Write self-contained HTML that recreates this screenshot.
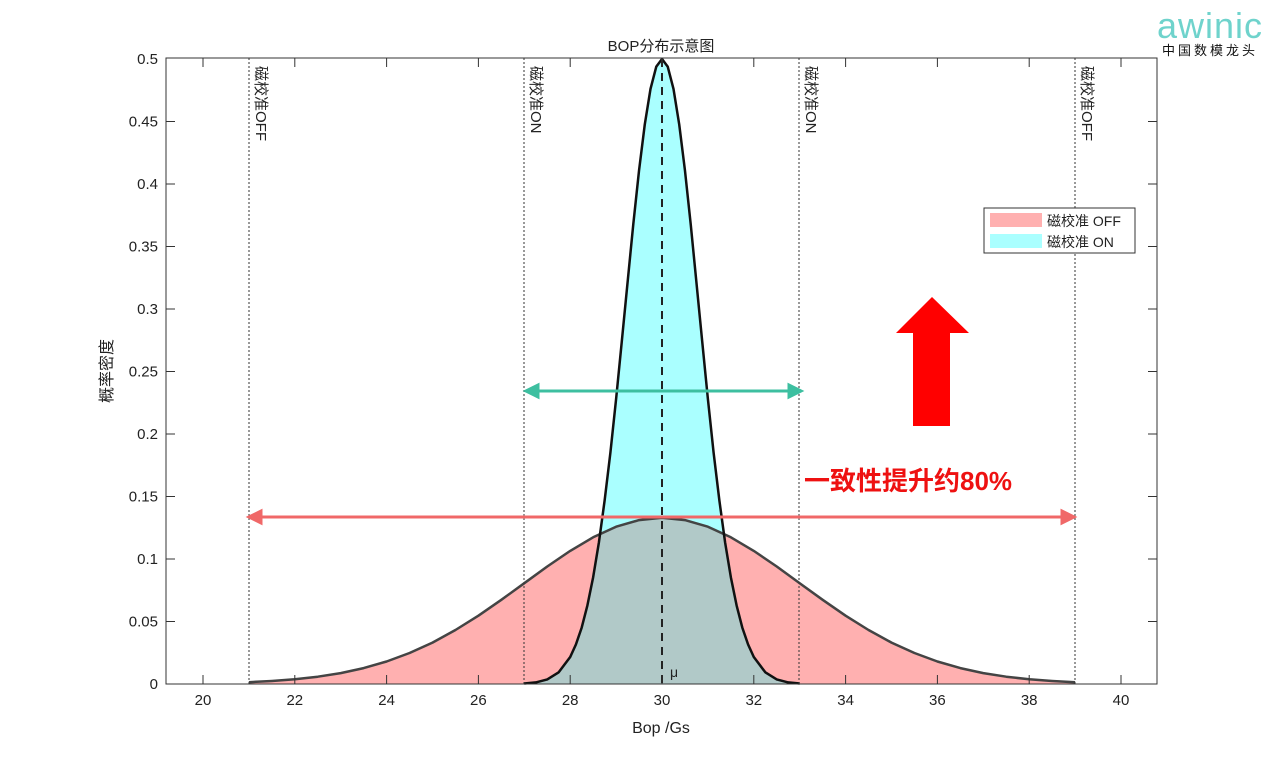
<!DOCTYPE html>
<html><head><meta charset="utf-8"><style>
body{margin:0;background:#fff;width:1280px;height:768px;overflow:hidden}
text{font-family:"Liberation Sans","Noto Sans CJK SC",sans-serif}
</style></head><body>
<svg width="1280" height="768" xmlns="http://www.w3.org/2000/svg" xmlns:xlink="http://www.w3.org/1999/xlink">
<defs>
<polygon id="offp" points="248.9,684 248.9,682.2 271.85,681.0 294.8,679.3 317.75,676.7 340.7,673.1 363.65,668.1 386.6,661.5 409.55,653.0 432.5,642.6 455.45,630.0 478.4,615.7 501.35,599.8 524.3,583.2 547.25,566.5 570.2,550.9 593.15,537.3 616.1,526.7 639.05,520.1 662,517.8 684.95,520.1 707.9,526.7 730.85,537.3 753.8,550.9 776.75,566.5 799.7,583.2 822.65,599.8 845.6,615.7 868.55,630.0 891.5,642.6 914.45,653.0 937.4,661.5 960.35,668.1 983.3,673.1 1006.25,676.7 1029.2,679.3 1052.15,681.0 1075.1,682.2 1075.1,684"/>
<polygon id="onp" points="524.3,684 524.3,683.5 535.8,682.4 547.25,679.4 558.7,672.3 570.2,657.0 575.9,644.5 581.7,627.6 587.4,605.4 593.15,577.2 598.9,542.4 604.6,500.7 610.4,452.6 616.1,399.0 621.8,341.4 627.6,282.1 633.3,224.1 639.05,170.4 644.8,124.3 650.5,88.9 656.3,66.6 662,59 667.7,66.6 673.5,88.9 679.2,124.3 684.95,170.4 690.7,224.1 696.4,282.1 702.2,341.4 707.9,399.0 713.6,452.6 719.4,500.7 725.1,542.4 730.85,577.2 736.6,605.4 742.3,627.6 748.1,644.5 753.8,657.0 765.3,672.3 776.75,679.4 788.2,682.4 799.7,683.5 799.7,684"/>
<clipPath id="offclip"><use xlink:href="#offp" href="#offp"/></clipPath>
</defs>
<rect x="166" y="58" width="991" height="626" fill="#fff"/>
<use href="#offp" xlink:href="#offp" fill="#ffb0b0"/>
<use href="#onp" xlink:href="#onp" fill="#aaffff"/>
<use href="#onp" xlink:href="#onp" fill="#b1c9c8" clip-path="url(#offclip)"/>
<polyline fill="none" stroke="#444" stroke-width="2.5" stroke-linejoin="round" points="248.9,682.2 271.85,681.0 294.8,679.3 317.75,676.7 340.7,673.1 363.65,668.1 386.6,661.5 409.55,653.0 432.5,642.6 455.45,630.0 478.4,615.7 501.35,599.8 524.3,583.2 547.25,566.5 570.2,550.9 593.15,537.3 616.1,526.7 639.05,520.1 662,517.8 684.95,520.1 707.9,526.7 730.85,537.3 753.8,550.9 776.75,566.5 799.7,583.2 822.65,599.8 845.6,615.7 868.55,630.0 891.5,642.6 914.45,653.0 937.4,661.5 960.35,668.1 983.3,673.1 1006.25,676.7 1029.2,679.3 1052.15,681.0 1075.1,682.2"/>
<polyline fill="none" stroke="#111" stroke-width="2.5" stroke-linejoin="round" points="524.3,683.5 535.8,682.4 547.25,679.4 558.7,672.3 570.2,657.0 575.9,644.5 581.7,627.6 587.4,605.4 593.15,577.2 598.9,542.4 604.6,500.7 610.4,452.6 616.1,399.0 621.8,341.4 627.6,282.1 633.3,224.1 639.05,170.4 644.8,124.3 650.5,88.9 656.3,66.6 662,59 667.7,66.6 673.5,88.9 679.2,124.3 684.95,170.4 690.7,224.1 696.4,282.1 702.2,341.4 707.9,399.0 713.6,452.6 719.4,500.7 725.1,542.4 730.85,577.2 736.6,605.4 742.3,627.6 748.1,644.5 753.8,657.0 765.3,672.3 776.75,679.4 788.2,682.4 799.7,683.5"/>
<line x1="662" y1="59" x2="662" y2="684" stroke="#222" stroke-width="2" stroke-dasharray="8,6"/>
<g stroke="#333" stroke-width="1" stroke-dasharray="2,2">
<line x1="249" y1="58" x2="249" y2="684"/><line x1="524" y1="58" x2="524" y2="684"/>
<line x1="799" y1="58" x2="799" y2="684"/><line x1="1075" y1="58" x2="1075" y2="684"/>
</g>
<g font-size="15" fill="#222">
<text transform="translate(256,66) rotate(90)">磁校准OFF</text>
<text transform="translate(531,66) rotate(90)">磁校准ON</text>
<text transform="translate(806,66) rotate(90)">磁校准ON</text>
<text transform="translate(1082,66) rotate(90)">磁校准OFF</text>
</g>
<text x="670" y="677" font-size="14" fill="#222">μ</text>
<rect x="166" y="58" width="991" height="626" fill="none" stroke="#333" stroke-width="1"/>
<g stroke="#333" stroke-width="1">
<path d="M203,684v-9M294.8,684v-9M386.6,684v-9M478.4,684v-9M570.2,684v-9M662,684v-9M753.8,684v-9M845.6,684v-9M937.4,684v-9M1029.2,684v-9M1121,684v-9M203,58v9M294.8,58v9M386.6,58v9M478.4,58v9M570.2,58v9M662,58v9M753.8,58v9M845.6,58v9M937.4,58v9M1029.2,58v9M1121,58v9"/>
<path d="M166,621.5h9M166,559h9M166,496.5h9M166,434h9M166,371.5h9M166,309h9M166,246.5h9M166,184h9M166,121.5h9M1157,621.5h-9M1157,559h-9M1157,496.5h-9M1157,434h-9M1157,371.5h-9M1157,309h-9M1157,246.5h-9M1157,184h-9M1157,121.5h-9"/>
</g>
<g font-size="15" fill="#222" text-anchor="middle">
<text x="203" y="705">20</text><text x="294.8" y="705">22</text><text x="386.6" y="705">24</text><text x="478.4" y="705">26</text><text x="570.2" y="705">28</text><text x="662" y="705">30</text><text x="753.8" y="705">32</text><text x="845.6" y="705">34</text><text x="937.4" y="705">36</text><text x="1029.2" y="705">38</text><text x="1121" y="705">40</text>
</g>
<g font-size="15" fill="#222" text-anchor="end">
<text x="158" y="689">0</text><text x="158" y="626.5">0.05</text><text x="158" y="564">0.1</text><text x="158" y="501.5">0.15</text><text x="158" y="439">0.2</text><text x="158" y="376.5">0.25</text><text x="158" y="314">0.3</text><text x="158" y="251.5">0.35</text><text x="158" y="189">0.4</text><text x="158" y="126.5">0.45</text><text x="158" y="64">0.5</text>
</g>
<text x="661" y="51" font-size="15" text-anchor="middle" fill="#222">BOP分布示意图</text>
<text x="661" y="733" font-size="16" text-anchor="middle" fill="#222">Bop /Gs</text>
<text transform="translate(112,371) rotate(-90)" font-size="16" text-anchor="middle" fill="#222">概率密度</text>
<rect x="984" y="208" width="151" height="45" fill="#fff" stroke="#333"/>
<rect x="990" y="213" width="52" height="14" fill="#ffb0b0"/>
<rect x="990" y="234" width="52" height="14" fill="#aaffff"/>
<text x="1047" y="226" font-size="14" fill="#222">磁校准 OFF</text>
<text x="1047" y="247" font-size="14" fill="#222">磁校准 ON</text>
<g stroke="#3dbfa0" stroke-width="3" fill="#3dbfa0">
<line x1="533" y1="391" x2="794" y2="391"/>
<polygon points="526,391 538,385 538,397"/><polygon points="801,391 789,385 789,397"/>
</g>
<g stroke="#f06868" stroke-width="3" fill="#f06868">
<line x1="256" y1="517" x2="1066" y2="517"/>
<polygon points="249,517 261,511 261,523"/><polygon points="1074,517 1062,511 1062,523"/>
</g>
<polygon points="932,297 969,333 950,333 950,426 913,426 913,333 896,333" fill="#ff0000"/>
<text x="804" y="490" font-size="26" font-weight="bold" fill="#ee1111">一致性提升约80%</text>
<text x="1210" y="38" font-size="36" fill="#6fd3cc" text-anchor="middle" style="letter-spacing:1px">awinic</text>
<text x="1210" y="55" font-size="13" fill="#111" text-anchor="middle" style="letter-spacing:3px">中国数模龙头</text>
</svg>
</body></html>
